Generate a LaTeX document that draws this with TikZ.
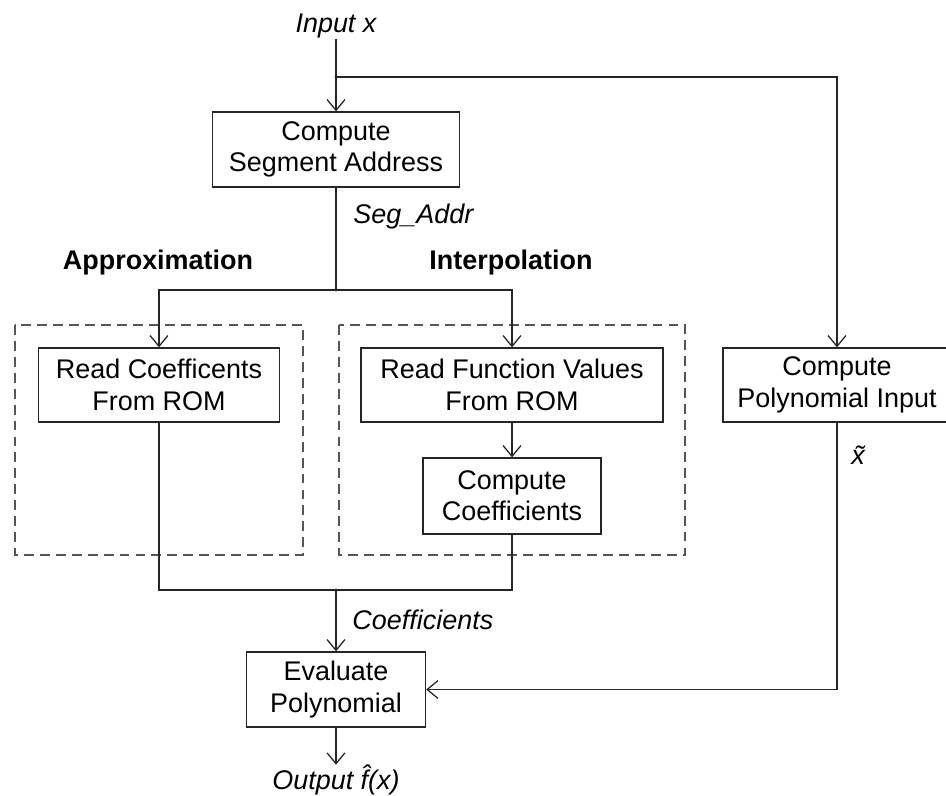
\documentclass[tikz,border=0pt]{standalone}
\usepackage{fontspec}
\setmainfont{Liberation Sans}
\usetikzlibrary{positioning,arrows.meta}
\newlength\pxu
\setlength\pxu{0.015cm}
\definecolor{lnblack}{HTML}{262626}
\definecolor{dashgray}{HTML}{555555}
\tikzset{
  block/.style ={draw=lnblack, line width=0.55pt, align=center, inner sep=0pt},
  group/.style ={draw=dashgray, line width=0.6pt, dash pattern=on 4.2pt off 2.6pt},
  wire/.style  ={draw=lnblack, line width=0.55pt},
  flow/.style  ={wire, -{Straight Barb[length=4.6pt,width=7.6pt,line width=0.55pt]}},
  tag/.style   ={font=\fontsize{11.5}{13.4}\selectfont\itshape, inner sep=0pt},
  title/.style ={font=\fontsize{11.5}{13.4}\selectfont\bfseries, inner sep=0pt},
  junct/.style ={fill=lnblack, circle, inner sep=0pt, minimum size=1.3pt},
}
\begin{document}
\begin{tikzpicture}[x=\pxu, y=-\pxu, font=\fontsize{11.5}{13.4}\selectfont]
  \useasboundingbox (0,0) rectangle (946,796);
  % --- groups ---
  \draw[group] (15,325) rectangle (303,555);
  \draw[group] (339,325) rectangle (685,555);
  \node[title] (approx) at (158,263) {Approximation};
  \node[title] (interp) at (511,263) {Interpolation};
  % --- blocks ---
  \node[tag] (input) at (336,26) {Input x};
  \node[block, minimum width=247\pxu, minimum height=75\pxu] (segaddr) at (336,149.5) {Compute\\Segment Address};
  \node[block, minimum width=241\pxu, minimum height=74\pxu] (readcoef) at (159,385) {Read Coefficents\\From ROM};
  \node[block, minimum width=302\pxu, minimum height=74\pxu] (readfunc) at (512,385) {Read Function Values\\From ROM};
  \node[block, minimum width=178\pxu, minimum height=76\pxu] (compcoef) at (512,496) {Compute\\Coefficients};
  \node[block, minimum width=228\pxu, minimum height=74\pxu] (polyin) at (837,385) {Compute\\Polynomial Input};
  \node[block, minimum width=179\pxu, minimum height=75\pxu] (evalpoly) at (336,689.5) {Evaluate\\Polynomial};
  \node[tag] (output) at (336,780) {Output \^{f}(x)};
  % --- branch points ---
  \coordinate (j1) at (336,77);
  \coordinate (j2) at (336,290);
  \coordinate (j3) at (336,590);
  \foreach \j in {j1,j2,j3} \node[junct] at (\j) {};
  % --- connectors ---
  \draw[flow] (input) -- (segaddr);
  \draw[flow] (j1) -| (polyin);
  \draw[wire] (segaddr) -- (j2);
  \draw[flow] (j2) -| (readcoef);
  \draw[flow] (j2) -| (readfunc);
  \draw[flow] (readfunc) -- (compcoef);
  \draw[wire] (readcoef) |- (j3);
  \draw[wire] (compcoef) |- (j3);
  \draw[flow] (j3) -- (evalpoly);
  \draw[flow] (polyin) |- (evalpoly);
  \draw[flow] (evalpoly) -- (output);
  % --- labels ---
  \node[tag, anchor=west] (segtag) at (353,217) {Seg\_Addr};
  \node[tag, anchor=west] (coeftag) at (352,620) {Coefficients};
  \node[tag] (xtag) at (858,455) {\~{x}};
\end{tikzpicture}
\end{document}
